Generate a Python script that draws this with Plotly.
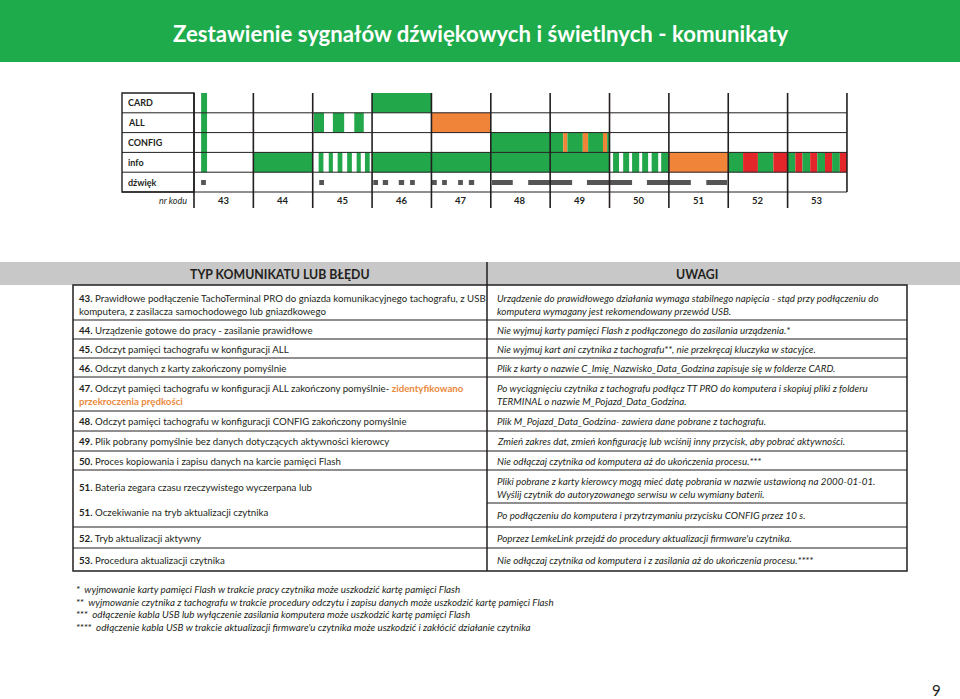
import plotly.graph_objects as go

# ---- data ----
title = "Zestawienie sygnałów dźwiękowych i świetlnych - komunikaty"
codes = [43, 44, 45, 46, 47, 48, 49, 50, 51, 52, 53]
row_names = ["CARD", "ALL", "CONFIG", "info", "dźwięk"]

# light signals: (start, end, colour) in code-column units (column 43 = 0..1)
card_sig = [(0.12, 0.22, "G"), (3.0, 4.0, "G")]
all_sig = [(0.12, 0.22, "G"), (2.02, 2.19, "G"), (2.34, 2.53, "G"), (2.70, 2.86, "G"),
           (4.0, 5.0, "O")]
config_sig = [(0.12, 0.22, "G"), (5.0, 6.22, "G"), (6.22, 6.29, "O"), (6.29, 6.55, "G"),
              (6.55, 6.64, "O"), (6.64, 6.89, "G"), (6.89, 6.96, "O"), (6.96, 7.0, "G")]
info_sig = [(0.12, 0.22, "G"), (1.0, 2.0, "G"),
            (2.10, 2.18, "G"), (2.27, 2.34, "G"), (2.42, 2.50, "G"), (2.58, 2.66, "G"),
            (2.74, 2.81, "G"), (2.88, 2.96, "G"),
            (3.0, 4.0, "G"), (4.0, 5.0, "G"), (5.0, 6.0, "G"), (6.0, 7.0, "G"),
            (7.06, 7.16, "G"), (7.23, 7.33, "G"), (7.38, 7.50, "G"), (7.55, 7.65, "G"),
            (7.71, 7.82, "G"), (7.87, 7.99, "G"),
            (8.0, 9.0, "O"),
            (9.0, 9.25, "G"), (9.25, 9.5, "R"), (9.5, 9.76, "G"), (9.76, 10.0, "R"),
            (10.0, 10.13, "G"), (10.13, 10.25, "R"), (10.25, 10.38, "G"), (10.38, 10.5, "R"),
            (10.5, 10.63, "G"), (10.63, 10.75, "R"), (10.75, 10.88, "G"), (10.88, 11.0, "R")]
light_rows = [card_sig, all_sig, config_sig, info_sig]
# sound signals (start, end)
sound_sig = [(0.12, 0.20), (2.11, 2.19),
             (3.02, 3.10), (3.18, 3.27), (3.45, 3.54), (3.64, 3.72),
             (4.01, 4.09), (4.18, 4.26), (4.45, 4.53), (4.63, 4.72),
             (5.02, 5.37), (5.63, 6.37), (6.62, 7.38), (7.63, 8.37), (8.63, 8.98)]

head_left = "TYP KOMUNIKATU LUB BŁĘDU"
head_right = "UWAGI"
msg_nums = ["43.", "44.", "45.", "46.", "47.", "48.", "49.", "50.", "51.", "51.", "52.", "53."]
msg_texts = [
    "Prawidłowe podłączenie TachoTerminal PRO do gniazda komunikacyjnego tachografu, z USB<br>komputera, z zasilacza samochodowego lub gniazdkowego",
    "Urządzenie gotowe do pracy - zasilanie prawidłowe",
    "Odczyt pamięci tachografu w konfiguracji ALL",
    "Odczyt danych z karty zakończony pomyślnie",
    "Odczyt pamięci tachografu w konfiguracji ALL zakończony pomyślnie- <span style='color:#ea8a3c'><b>zidentyfikowano</b></span><br><span style='color:#ea8a3c'><b>przekroczenia prędkości</b></span>",
    "Odczyt pamięci tachografu w konfiguracji CONFIG zakończony pomyślnie",
    "Plik pobrany pomyślnie bez danych dotyczących aktywności kierowcy",
    "Proces kopiowania i zapisu danych na karcie pamięci Flash",
    "Bateria zegara czasu rzeczywistego wyczerpana lub",
    "Oczekiwanie na tryb aktualizacji czytnika",
    "Tryb aktualizacji aktywny",
    "Procedura aktualizacji czytnika",
]
notes = [
    "Urządzenie do prawidłowego działania wymaga stabilnego napięcia - stąd przy podłączeniu do<br>komputera wymagany jest rekomendowany przewód USB.",
    "Nie wyjmuj karty pamięci Flash z podłączonego do zasilania urządzenia.*",
    "Nie wyjmuj kart ani czytnika z tachografu**, nie przekręcaj kluczyka w stacyjce.",
    "Plik z karty o nazwie C_Imię_Nazwisko_Data_Godzina zapisuje się w folderze CARD.",
    "Po wyciągnięciu czytnika z tachografu podłącz TT PRO do komputera i skopiuj pliki z folderu<br>TERMINAL o nazwie M_Pojazd_Data_Godzina.",
    "Plik M_Pojazd_Data_Godzina- zawiera dane pobrane z tachografu.",
    "Zmień zakres dat, zmień konfigurację lub wciśnij inny przycisk, aby pobrać aktywności.",
    "Nie odłączaj czytnika od komputera aż do ukończenia procesu.***",
    "Pliki pobrane z karty kierowcy mogą mieć datę pobrania w nazwie ustawioną na 2000-01-01.<br>Wyślij czytnik do autoryzowanego serwisu w celu wymiany baterii.",
    "Po podłączeniu do komputera i przytrzymaniu przycisku CONFIG przez 10 s.",
    "Poprzez LemkeLink przejdź do procedury aktualizacji firmware'u czytnika.",
    "Nie odłączaj czytnika od komputera i z zasilania aż do ukończenia procesu.****",
]
footnotes = [
    "*  wyjmowanie karty pamięci Flash w trakcie pracy czytnika może uszkodzić kartę pamięci Flash",
    "**  wyjmowanie czytnika z tachografu w trakcie procedury odczytu i zapisu danych może uszkodzić kartę pamięci Flash",
    "***  odłączenie kabla USB lub wyłączenie zasilania komputera może uszkodzić kartę pamięci Flash",
    "****  odłączenie kabla USB w trakcie aktualizacji firmware'u czytnika może uszkodzić i zakłócić działanie czytnika",
]
page_no = "9"

# ---- layout constants ----
W, H = 960, 699
FONT = "Lato"
INK = "#231f20"
GREEN = "#1eab4b"
COLS = {"G": "#22a84b", "O": "#f08539", "R": "#e3262a"}

col0, colw = 194, 59.36
top, rowh, bottom = 93, 19.8, 208
x2r = (-0.2, 11.2)
y2r = ((bottom - top) / rowh, 0)

left_y = [304.5, 329.5, 348.5, 367.5, 394, 421, 441, 460.5, 487, 512, 537.5, 559.5]
right_y = [304.5, 329.5, 348.5, 367.5, 394, 421, 441, 460.5, 487.5, 515, 537.5, 559.5]
left_lines = [320, 339, 358, 377, 411, 431, 451, 470, 527, 548]
right_lines = left_lines + [503]
tab_l, tab_div, tab_r, tab_top, tab_bot = 73, 487, 907, 285, 571

fig = go.Figure()
# invisible traces so both subplots exist
fig.add_trace(go.Scatter(x=[0], y=[0], mode="markers", marker=dict(opacity=0),
                         hoverinfo="skip", showlegend=False))
fig.add_trace(go.Scatter(x=[0], y=[0], mode="markers", marker=dict(opacity=0),
                         hoverinfo="skip", showlegend=False, xaxis="x2", yaxis="y2"))

shapes = []
ann = []

# title band
shapes.append(dict(type="rect", xref="x", yref="y", x0=0, x1=W, y0=0, y1=62,
                   fillcolor=GREEN, line=dict(width=0), layer="below"))
ann.append(dict(x=480, y=33, xref="x", yref="y", text="<b>" + title + "</b>",
                showarrow=False, font=dict(family=FONT, size=22.2, color="white")))

# signal chart: light bars
for r, segs in enumerate(light_rows):
    for s, e, c in segs:
        shapes.append(dict(type="rect", xref="x2", yref="y2", x0=s, x1=e, y0=r, y1=r + 1,
                           fillcolor=COLS[c], line=dict(width=0)))
for s, e in sound_sig:
    shapes.append(dict(type="rect", xref="x2", yref="y2", x0=s, x1=e, y0=4.4, y1=4.65,
                       fillcolor="#555555", line=dict(width=0)))

# grid lines of the signal chart
for k in range(1, 6):
    yy = top + k * rowh
    shapes.append(dict(type="line", xref="x", yref="y", x0=122, x1=col0 + 11 * colw,
                       y0=yy, y1=yy, line=dict(color=INK, width=1)))
shapes.append(dict(type="rect", xref="x", yref="y", x0=122, x1=col0, y0=top, y1=top + 5 * rowh,
                   line=dict(color=INK, width=1.4)))
for k in range(12):
    y_end = 5 if k == 11 else y2r[0]
    shapes.append(dict(type="line", xref="x2", yref="y2", x0=k, x1=k, y0=0, y1=y_end,
                       line=dict(color=INK, width=1.6)))

for r, name in enumerate(row_names):
    ann.append(dict(x=126, y=top + (r + 0.5) * rowh, xref="x", yref="y", xanchor="left",
                    text="<b>" + name + "</b>", showarrow=False,
                    font=dict(family=FONT, size=9, color=INK)))
ann.append(dict(x=189, y=5.45, xref="x", yref="y2", xanchor="right", text="<i>nr kodu</i>",
                showarrow=False, font=dict(family=FONT, size=9, color=INK)))
for i, c in enumerate(codes):
    ann.append(dict(x=i + 0.5, y=5.45, xref="x2", yref="y2", text="<b>%d</b>" % c,
                    showarrow=False, font=dict(family=FONT, size=9.5, color=INK)))

# table header band
shapes.append(dict(type="rect", xref="x", yref="y", x0=0, x1=W, y0=262, y1=285,
                   fillcolor="#c8c8c8", line=dict(width=0), layer="below"))
ann.append(dict(x=(tab_l + tab_div) / 2, y=274, xref="x", yref="y", text="<b>" + head_left + "</b>",
                showarrow=False, font=dict(family=FONT, size=12.3, color=INK)))
ann.append(dict(x=(tab_div + tab_r) / 2, y=274, xref="x", yref="y", text="<b>" + head_right + "</b>",
                showarrow=False, font=dict(family=FONT, size=12.3, color=INK)))

# table frame
shapes.append(dict(type="rect", xref="x", yref="y", x0=tab_l, x1=tab_r, y0=tab_top, y1=tab_bot,
                   line=dict(color=INK, width=1.5)))
shapes.append(dict(type="line", xref="x", yref="y", x0=tab_div, x1=tab_div, y0=262, y1=tab_bot,
                   line=dict(color=INK, width=1.5)))
for yy in left_lines:
    shapes.append(dict(type="line", xref="x", yref="y", x0=tab_l, x1=tab_div, y0=yy, y1=yy,
                       line=dict(color=INK, width=1.2)))
for yy in right_lines:
    shapes.append(dict(type="line", xref="x", yref="y", x0=tab_div, x1=tab_r, y0=yy, y1=yy,
                       line=dict(color=INK, width=1.2)))

for num, txt, yy in zip(msg_nums, msg_texts, left_y):
    ann.append(dict(x=77, y=yy, xref="x", yref="y", xanchor="left", align="left",
                    text="<b>" + num + "</b> " + txt, showarrow=False,
                    font=dict(family=FONT, size=9.7, color=INK)))
for txt, yy in zip(notes, right_y):
    ann.append(dict(x=495, y=yy, xref="x", yref="y", xanchor="left", align="left",
                    text="<i>" + txt + "</i>", showarrow=False,
                    font=dict(family=FONT, size=9.8, color=INK)))

for i, txt in enumerate(footnotes):
    ann.append(dict(x=74, y=589 + i * 12.6, xref="x", yref="y", xanchor="left", align="left",
                    text="<i>" + txt + "</i>", showarrow=False,
                    font=dict(family=FONT, size=9.8, color=INK)))

ann.append(dict(x=936, y=690, xref="x", yref="y", text=page_no, showarrow=False,
                font=dict(family=FONT, size=15, color=INK)))

fig.update_layout(
    width=W, height=H, margin=dict(l=0, r=0, t=0, b=0),
    paper_bgcolor="white", plot_bgcolor="rgba(0,0,0,0)",
    xaxis=dict(range=[0, W], domain=[0, 1], visible=False, fixedrange=True),
    yaxis=dict(range=[H, 0], domain=[0, 1], visible=False, fixedrange=True),
    xaxis2=dict(range=list(x2r), visible=False, anchor="y2", fixedrange=True,
                domain=[(col0 + x2r[0] * colw) / W, (col0 + x2r[1] * colw) / W]),
    yaxis2=dict(range=list(y2r), visible=False, anchor="x2", fixedrange=True,
                domain=[(H - bottom) / H, (H - top) / H]),
    shapes=shapes, annotations=ann, showlegend=False,
)

# the page is shown edge to edge, so drop the browser's default body margin
fig.write_html("out.html", config={"displayModeBar": False},
               post_script="document.body.style.margin='0';document.body.style.overflow='hidden';")
